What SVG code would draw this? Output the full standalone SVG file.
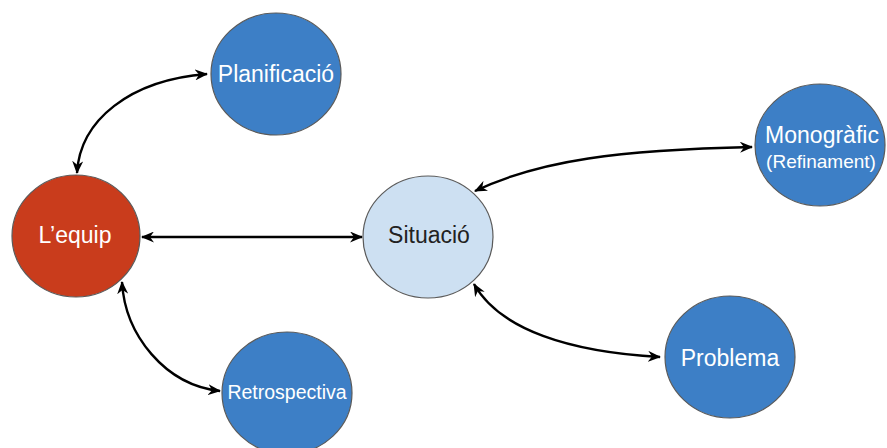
<svg xmlns="http://www.w3.org/2000/svg" width="887" height="448" viewBox="0 0 887 448">
<style>
.node ellipse{stroke:#5a5a5a;stroke-width:1.2}
.blue{fill:#3d7fc6}
.red{fill:#c93c1c}
.light{fill:#cde0f2}
text{font-family:"Liberation Sans",Arial,sans-serif;text-anchor:middle}
.w{fill:#ffffff}
.d{fill:#222222}
.edge{fill:none;stroke:#000;stroke-width:2.4;marker-start:url(#ah);marker-end:url(#ah)}
</style>
<defs>
<marker id="ah" viewBox="0 0 13 11" refX="12" refY="5.5" markerWidth="13" markerHeight="11" markerUnits="userSpaceOnUse" orient="auto-start-reverse">
<path d="M0,0 L13,5.5 L0,11 L4,5.5 z" fill="#000"/>
</marker>
</defs>
<rect width="887" height="448" fill="#ffffff"/>
<g id="connectors">
<path class="edge" d="M77,173 C80,120 130,80 207,74"/>
<path class="edge" d="M142,237 L362,237"/>
<path class="edge" d="M122,282 C125,335 165,385 220,391"/>
<path class="edge" d="M475,191 C540,160 620,150 752,147"/>
<path class="edge" d="M474,284 C500,330 570,352 660,357"/>
</g>
<g id="planificacio" class="node">
<ellipse class="blue" cx="276" cy="74" rx="65" ry="61"/>
<text class="w" x="276" y="82" font-size="23">Planificació</text>
</g>
<g id="equip" class="node">
<ellipse class="red" cx="76" cy="236" rx="64" ry="61"/>
<text class="w" x="75" y="243" font-size="23">L’equip</text>
</g>
<g id="situacio" class="node">
<ellipse class="light" cx="428" cy="237" rx="65" ry="61"/>
<text class="d" x="429" y="243" font-size="23">Situació</text>
</g>
<g id="monografic" class="node">
<ellipse class="blue" cx="820" cy="145" rx="65" ry="61"/>
<text class="w" x="822" y="143" font-size="23">Monogràfic</text>
<text class="w" x="821" y="168" font-size="19">(Refinament)</text>
</g>
<g id="problema" class="node">
<ellipse class="blue" cx="730" cy="357" rx="65" ry="61"/>
<text class="w" x="730" y="366" font-size="23">Problema</text>
</g>
<g id="retrospectiva" class="node">
<ellipse class="blue" cx="287" cy="393" rx="65" ry="61"/>
<text class="w" x="287" y="399" font-size="19.5">Retrospectiva</text>
</g>
</svg>
